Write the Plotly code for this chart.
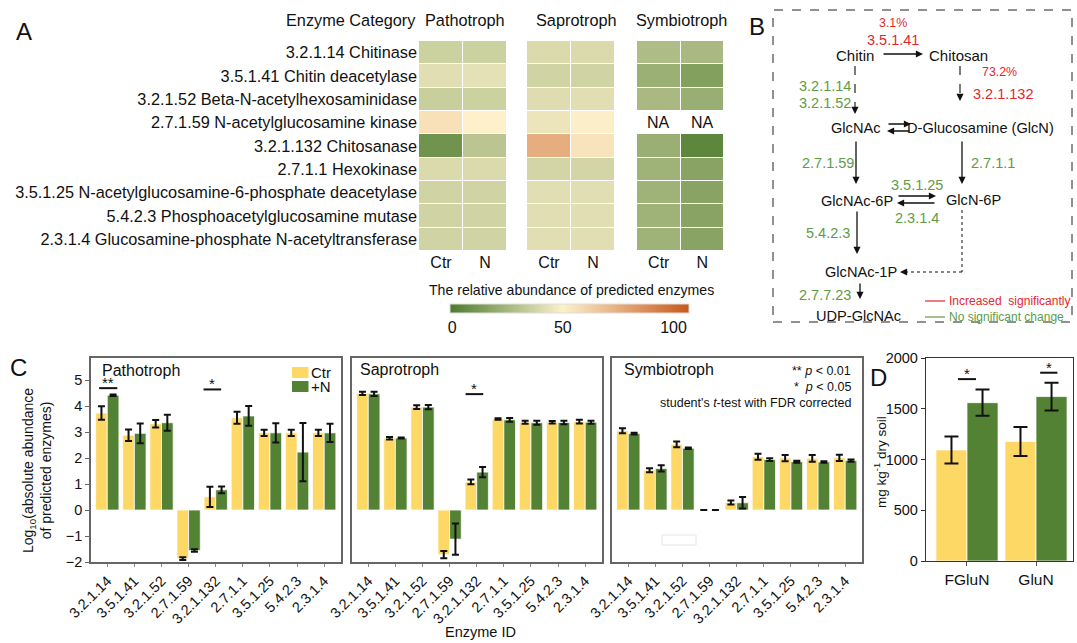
import plotly.graph_objects as go

W, H = 1077, 643
FONT = "Arial, Liberation Sans, sans-serif"
YELLOW = "#FDD865"
GREEN = "#548235"
RED_TXT = "#E3262C"
GREEN_TXT = "#5F9B45"


def px(x):
    return x / W


def py(y):
    return 1 - y / H


# ---------------- data ----------------
treatments = ["Ctr", "N"]
enzyme_names = [
    "3.2.1.14 Chitinase",
    "3.5.1.41 Chitin deacetylase",
    "3.2.1.52 Beta-N-acetylhexosaminidase",
    "2.7.1.59 N-acetylglucosamine kinase",
    "3.2.1.132 Chitosanase",
    "2.7.1.1 Hexokinase",
    "3.5.1.25 N-acetylglucosamine-6-phosphate deacetylase",
    "5.4.2.3 Phosphoacetylglucosamine mutase",
    "2.3.1.4 Glucosamine-phosphate N-acetyltransferase",
]
# relative abundance (Ctr, N) per enzyme
heat_patho = [[36, 36], [42, 43], [35, 36], [56, 50.5], [9.5, 31],
              [40, 40], [37, 37], [37, 37], [37, 37]]
heat_sapro = [[40, 40], [37, 37], [41, 42], [45, 51], [75, 55],
              [38, 38], [42, 42], [42, 42], [42, 42]]
heat_symb = [[27.5, 26], [22, 15], [26, 21], [None, None], [21.5, 4],
             [23, 16.5], [23, 16.5], [23, 16.5], [23, 16.5]]
colorbar_ticks = [0, 50, 100]

enzyme_ids = ["3.2.1.14", "3.5.1.41", "3.2.1.52", "2.7.1.59", "3.2.1.132",
              "2.7.1.1", "3.5.1.25", "5.4.2.3", "2.3.1.4"]

patho_ctr = [3.73, 2.88, 3.32, -1.87, 0.51, 3.55, 2.97, 2.97, 2.97]
patho_ctr_err = [0.26, 0.22, 0.14, 0.05, 0.39, 0.23, 0.12, 0.12, 0.12]
patho_n = [4.42, 2.95, 3.36, -1.56, 0.78, 3.62, 2.97, 2.23, 2.97]
patho_n_err = [0.03, 0.38, 0.31, 0.05, 0.13, 0.38, 0.37, 1.12, 0.35]

sapro_ctr = [4.49, 2.76, 3.96, -1.72, 1.08, 3.50, 3.38, 3.38, 3.40]
sapro_ctr_err = [0.06, 0.05, 0.07, 0.14, 0.09, 0.03, 0.06, 0.05, 0.07]
sapro_n = [4.47, 2.77, 3.96, -1.12, 1.46, 3.47, 3.36, 3.37, 3.38]
sapro_n_err = [0.08, 0.02, 0.08, 0.60, 0.20, 0.07, 0.08, 0.07, 0.06]

symb_ctr = [3.05, 1.53, 2.53, 0, 0.29, 2.05, 2.00, 1.99, 2.01]
symb_ctr_err = [0.10, 0.08, 0.11, 0, 0.08, 0.12, 0.12, 0.13, 0.12]
symb_n = [2.94, 1.60, 2.38, 0, 0.28, 1.94, 1.86, 1.85, 1.90]
symb_n_err = [0.03, 0.12, 0.03, 0, 0.22, 0.05, 0.04, 0.03, 0.04]

# significance marks: (panel, enzyme index, label, bar height, left, right)
sig_c = [("patho", 0, "**", 4.69, -0.30, 0.37),
         ("patho", 4, "*", 4.64, -0.45, 0.20),
         ("sapro", 4, "*", 4.46, -0.41, 0.24)]

soil_pools = ["FGluN", "GluN"]
soil_ctr = [1094, 1178]
soil_ctr_err = [133, 143]
soil_n = [1560, 1620]
soil_n_err = [130, 137]
sig_d = [(0, "*", 1792, -0.13, 0.13), (1, "*", 1855, 0.06, 0.31)]

fig = go.Figure()
annotations = []
shapes = []


def note(x, y, text, size=14, color="#111", xanchor="center", **kw):
    annotations.append(dict(x=px(x), y=py(y), xref="paper", yref="paper",
                            text=text, showarrow=False, xanchor=xanchor,
                            yanchor="middle", font=dict(family=FONT, size=size, color=color), **kw))


# ---------------- panel A: heatmaps ----------------
heat_axes = [("x", "y", heat_patho, 419, 507),
             ("x2", "y2", heat_sapro, 527, 615),
             ("x3", "y3", heat_symb, 637, 724)]
for xa, ya, z, x0, x1 in heat_axes:
    fig.add_trace(go.Heatmap(z=z, x=treatments, y=enzyme_names, xaxis=xa, yaxis=ya,
                             coloraxis="coloraxis", xgap=1, ygap=1, hoverongaps=False))
    n = xa[1:] if len(xa) > 1 else ""
    fig.layout["xaxis" + n] = dict(domain=[px(x0), px(x1)], anchor=ya, side="bottom",
                                   showgrid=False, zeroline=False, showline=False, ticks="",
                                   automargin=False,
                                   tickfont=dict(family=FONT, size=16, color="#111"))
    fig.layout["yaxis" + n] = dict(domain=[py(251), py(41)], anchor=xa, autorange="reversed",
                                   showgrid=False, zeroline=False, showline=False, ticks="",
                                   automargin=False,
                                   showticklabels=(xa == "x"), ticklabelstandoff=1,
                                   tickfont=dict(family=FONT, size=16.3, color="#111"))

for t in treatments:
    annotations.append(dict(x=t, y=enzyme_names[3], xref="x3", yref="y3", text="NA",
                            showarrow=False, font=dict(family=FONT, size=16, color="#111")))

fig.update_layout(coloraxis=dict(
    cmin=-1, cmax=107,
    colorscale=[[0.0, "#4B7B2D"], [51 / 108, "#FDF1CC"], [1.0, "#C9571A"]],
    colorbar=dict(orientation="h", x=px(569.5), xanchor="center", y=py(304), yanchor="top",
                  len=239 / W, lenmode="fraction", thickness=9, xpad=0, ypad=0,
                  tickvals=colorbar_ticks, ticks="", outlinewidth=1, outlinecolor="#DDDDDD",
                  tickfont=dict(family=FONT, size=16, color="#111"))))

note(418, 20, "Enzyme Category", 16.3, xanchor="right")
note(465, 20, "Pathotroph", 16.3)
note(576, 20, "Saprotroph", 16.3)
note(681, 20, "Symbiotroph", 16.3)
note(571, 290, "The relative abundance of predicted enzymes", 14.1)
note(24, 32, "A", 24)

# ---------------- panel B: pathway ----------------
note(757, 27, "B", 24)
shapes.append(dict(type="rect", xref="paper", yref="paper", x0=px(773), x1=px(1072),
                   y0=py(322), y1=py(10), line=dict(color="#222", width=1, dash="dash")))

pathway_texts = [
    (893, 23, "3.1%", 12.4, RED_TXT), (893, 40, "3.5.1.41", 14.5, RED_TXT),
    (855, 55, "Chitin", 15, "#111"), (958, 55, "Chitosan", 15, "#111"),
    (999, 72, "73.2%", 12.4, RED_TXT), (1003, 94, "3.2.1.132", 14.5, RED_TXT),
    (825, 86, "3.2.1.14", 14.5, GREEN_TXT), (825, 103, "3.2.1.52", 14.5, GREEN_TXT),
    (855, 128, "GlcNAc", 14.6, "#111"), (980, 128, "D-Glucosamine (GlcN)", 14.6, "#111"),
    (828, 163, "2.7.1.59", 14.5, GREEN_TXT), (993, 163, "2.7.1.1", 14.5, GREEN_TXT),
    (917, 185, "3.5.1.25", 14.5, GREEN_TXT), (857, 201, "GlcNAc-6P", 14.6, "#111"),
    (973, 200, "GlcN-6P", 14.6, "#111"), (917, 218, "2.3.1.4", 14.5, GREEN_TXT),
    (828, 233, "5.4.2.3", 14.5, GREEN_TXT), (861, 272, "GlcNAc-1P", 14.6, "#111"),
    (825, 295, "2.7.7.23", 14.5, GREEN_TXT), (858, 316, "UDP-GlcNAc", 14.6, "#111"),
]
for x, y, t, s, c in pathway_texts:
    note(x, y, t, s, c)

note(947, 301, "Increased  significantly", 12, RED_TXT, xanchor="left")
note(947, 317, "No significant change", 12, GREEN_TXT, xanchor="left")
shapes.append(dict(type="line", xref="paper", yref="paper", x0=px(925), x1=px(945),
                   y0=py(301), y1=py(301), line=dict(color=RED_TXT, width=1.2)))
shapes.append(dict(type="line", xref="paper", yref="paper", x0=px(925), x1=px(945),
                   y0=py(317), y1=py(317), line=dict(color=GREEN_TXT, width=1.2)))


def arrow(x0, y0, x1, y1):
    annotations.append(dict(x=px(x1), y=py(y1), xref="paper", yref="paper",
                            ax=x0 - x1, ay=y0 - y1, axref="pixel", ayref="pixel",
                            text="", showarrow=True, arrowhead=2, arrowsize=1.1,
                            arrowwidth=1.3, arrowcolor="#111", standoff=0, startstandoff=0))


def broken_arrow(x0, y0, x1, y1, dash):
    dx, dy = x1 - x0, y1 - y0
    L = (dx * dx + dy * dy) ** 0.5
    ux, uy = dx / L, dy / L
    shapes.append(dict(type="line", xref="paper", yref="paper", x0=px(x0), y0=py(y0),
                       x1=px(x1 - ux * 5), y1=py(y1 - uy * 5),
                       line=dict(color="#111", width=1.1, dash=dash)))
    arrow(x1 - ux * 6, y1 - uy * 6, x1, y1)


arrow(882, 54, 923, 54)
broken_arrow(855, 66, 855, 114, "dash")
broken_arrow(960, 66, 960, 101, "dash")
arrow(887, 124, 911, 124)
arrow(911, 131, 887, 131)
arrow(856, 140, 856, 184)
arrow(962, 140, 962, 184)
arrow(897, 196, 936, 196)
arrow(936, 203, 897, 203)
arrow(857, 210, 857, 254)
shapes.append(dict(type="line", xref="paper", yref="paper", x0=px(962), x1=px(962),
                   y0=py(210), y1=py(272), line=dict(color="#111", width=1, dash="dot")))
broken_arrow(962, 272, 900, 272, "dot")
arrow(860, 282, 860, 299)

# ---------------- panel C: grouped bars ----------------
c_panels = [("patho", "x4", "y4", 91, 341, patho_ctr, patho_ctr_err, patho_n, patho_n_err),
            ("sapro", "x5", "y5", 352, 602, sapro_ctr, sapro_ctr_err, sapro_n, sapro_n_err),
            ("symb", "x6", "y6", 612, 862, symb_ctr, symb_ctr_err, symb_n, symb_n_err)]
BW = 0.43
for name, xa, ya, x0, x1, c, ce, nv, ne in c_panels:
    for vals, errs, col, off in ((c, ce, YELLOW, -BW), (nv, ne, GREEN, 0)):
        fig.add_trace(go.Bar(x=enzyme_ids, y=vals, xaxis=xa, yaxis=ya, width=BW, offset=off,
                             marker=dict(color=col, line=dict(color="rgba(255,255,255,0.75)", width=1)),
                             error_y=dict(type="data", array=errs, color="#111", thickness=2, width=3.5)))
    n = xa[1:]
    fig.layout["xaxis" + n] = dict(domain=[px(x0), px(x1)], anchor=ya, type="category",
                                   range=[-0.6, 8.62], showgrid=False, zeroline=False,
                                   showline=True, mirror=True, linecolor="#666", linewidth=1.5,
                                   ticks="outside", ticklen=3, tickcolor="#888", tickangle=-45,
                                   automargin=False,
                                   tickfont=dict(family=FONT, size=14.5, color="#111"))
    fig.layout["yaxis" + n] = dict(domain=[py(562), py(358)], anchor=xa, range=[-2, 5.85],
                                   showgrid=False, zeroline=False, showline=True, mirror=True,
                                   linecolor="#666", linewidth=1.5,
                                   tickvals=list(range(-2, 6)),
                                   ticks="outside" if name == "patho" else "",
                                   ticklen=4, tickcolor="#666", automargin=False,
                                   showticklabels=(name == "patho"),
                                   tickfont=dict(family=FONT, size=14.5, color="#111"))

panel_axes = {"patho": ("x4", "y4"), "sapro": ("x5", "y5")}
for pname, i, lab, yv, l, r in sig_c:
    xa, ya = panel_axes[pname]
    shapes.append(dict(type="line", xref=xa, yref=ya, x0=i + l, x1=i + r, y0=yv, y1=yv,
                       line=dict(color="#111", width=2)))
    annotations.append(dict(x=i + (l + r) / 2, y=yv, xref=xa, yref=ya, text=lab, showarrow=False,
                            yanchor="bottom", yshift=-5, font=dict(family=FONT, size=15, color="#111")))

note(100, 370, "Pathotroph", 16, xanchor="left")
note(358, 369, "Saprotroph", 16, xanchor="left")
note(622, 369, "Symbiotroph", 16, xanchor="left")
note(18, 367, "C", 24)

# legend (Ctr / +N)
for yy, col, lab in ((372.5, YELLOW, "Ctr"), (386.5, GREEN, "+N")):
    shapes.append(dict(type="rect", xref="paper", yref="paper", x0=px(292), x1=px(308.5),
                       y0=py(yy + 5.5), y1=py(yy - 5.5), line=dict(width=0), fillcolor=col))
    note(309, yy, lab, 15, xanchor="left")

note(853, 371, "** <i>p</i> &lt; 0.01", 12.5, xanchor="right")
note(853, 387, "*  <i>p</i> &lt; 0.05", 12.5, xanchor="right")
note(853, 403, "student's <i>t</i>-test with FDR corrected", 12.5, xanchor="right")
shapes.append(dict(type="rect", xref="paper", yref="paper", x0=px(662), x1=px(696),
                   y0=py(545), y1=py(535), line=dict(color="#E4E4E4", width=1)))

note(37, 471, "Log<sub>10</sub>(absolute abundance<br>of predicted enzymes)", 14, textangle=-90)
note(480, 632, "Enzyme ID", 14.5)

# ---------------- panel D ----------------
BWD = 0.45
for vals, errs, col, off in ((soil_ctr, soil_ctr_err, YELLOW, -BWD), (soil_n, soil_n_err, GREEN, 0)):
    fig.add_trace(go.Bar(x=soil_pools, y=vals, xaxis="x7", yaxis="y7", width=BWD, offset=off,
                         marker=dict(color=col, line=dict(color="rgba(255,255,255,0.75)", width=1)),
                         error_y=dict(type="data", array=errs, color="#111", thickness=2, width=7)))
fig.layout["xaxis7"] = dict(domain=[px(926), px(1073)], anchor="y7", type="category",
                            range=[-0.594, 1.536], showgrid=False, zeroline=False,
                            showline=True, mirror=True, linecolor="#333", linewidth=1.3,
                            ticks="outside", ticklen=4, tickcolor="#555", automargin=False,
                            tickfont=dict(family=FONT, size=15.5, color="#111"))
fig.layout["yaxis7"] = dict(domain=[py(561), py(358)], anchor="x7", range=[0, 2000],
                            showgrid=False, zeroline=False, showline=True, mirror=True,
                            linecolor="#333", linewidth=1.3, tickvals=[0, 500, 1000, 1500, 2000],
                            ticks="outside", ticklen=4, tickcolor="#333", automargin=False,
                            tickfont=dict(family=FONT, size=14.5, color="#111"))
for i, lab, yv, l, r in sig_d:
    shapes.append(dict(type="line", xref="x7", yref="y7", x0=i + l, x1=i + r, y0=yv, y1=yv,
                       line=dict(color="#111", width=2)))
    annotations.append(dict(x=i + (l + r) / 2, y=yv, xref="x7", yref="y7", text=lab, showarrow=False,
                            yanchor="bottom", yshift=-5, font=dict(family=FONT, size=15, color="#111")))
note(878, 377, "D", 24)
note(880, 462, "mg kg<sup>-1</sup> dry soil", 13.5, textangle=-90)

fig.update_layout(template="none", width=W, height=H,
                  margin=dict(l=0, r=0, t=0, b=0, pad=0, autoexpand=False),
                  paper_bgcolor="white", plot_bgcolor="white", showlegend=False,
                  barmode="overlay", font=dict(family=FONT, color="#111"),
                  annotations=annotations, shapes=shapes)

fig.write_html("out.html")
